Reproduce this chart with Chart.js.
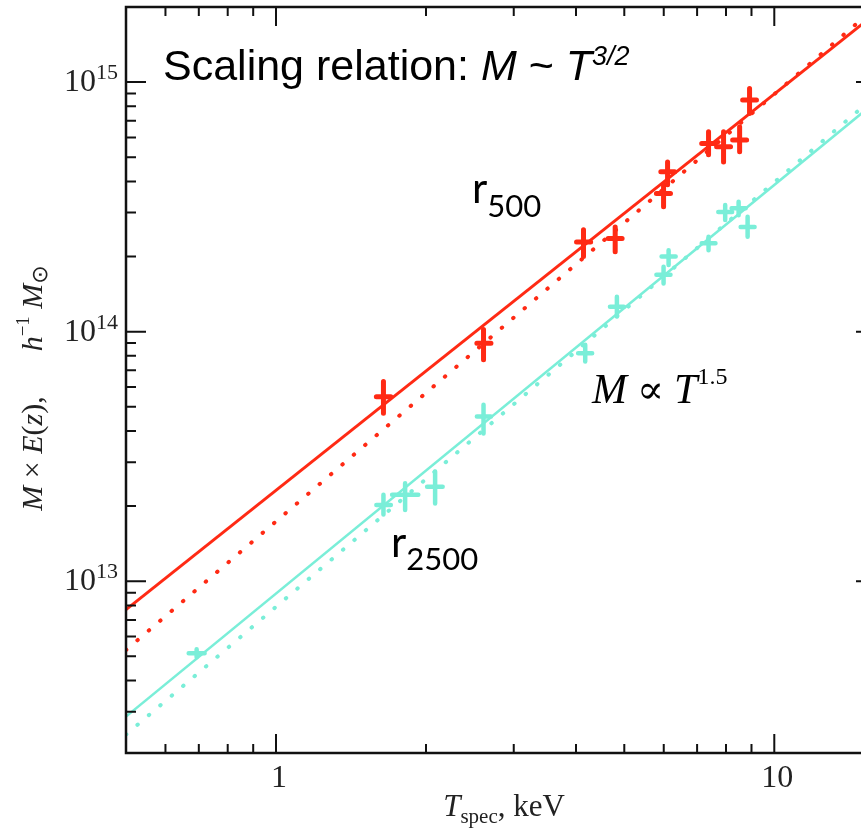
<!DOCTYPE html>
<html>
<head>
<meta charset="utf-8">
<script src="https://cdn.jsdelivr.net/npm/chart.js@4"></script>
<style>
  html, body { margin: 0; padding: 0; background: #fff; overflow: hidden; }
  #wrap { width: 861px; height: 830px; overflow: hidden; }
</style>
</head>
<body>
<div id="wrap"><canvas id="c" width="880" height="830"></canvas></div>
<script>
// r500 points (T in keV, M in h^-1 Msun)
var T_RED    = [1.643, 2.609, 4.141, 4.794, 5.995, 6.107, 7.38, 7.91, 8.52, 8.92];
var T_RED_LO = [1.59, 2.53, 4.01, 4.64, 5.80, 5.92, 7.15, 7.66, 8.25, 8.64];
var T_RED_HI = [1.70, 2.70, 4.28, 4.95, 6.19, 6.31, 7.62, 8.17, 8.80, 9.21];
var M_RED    = [5.49e13, 8.98e13, 2.29e14, 2.36e14, 3.58e14, 4.37e14, 5.68e14, 5.51e14, 5.86e14, 8.47e14];
var M_RED_LO = [4.71e13, 7.72e13, 2.00e14, 2.09e14, 3.17e14, 3.88e14, 5.12e14, 4.79e14, 5.26e14, 7.49e14];
var M_RED_HI = [6.31e13, 1.02e14, 2.56e14, 2.63e14, 3.88e14, 4.79e14, 6.32e14, 6.32e14, 6.62e14, 9.43e14];

// r2500 points
var T_CYAN    = [0.693, 1.643, 1.816, 2.086, 2.609, 4.174, 4.832, 5.995, 6.136, 7.38, 7.97, 8.48, 8.84];
var T_CYAN_LO = [0.668, 1.59, 1.71, 2.01, 2.53, 4.04, 4.68, 5.80, 5.94, 7.15, 7.72, 8.21, 8.56];
var T_CYAN_HI = [0.719, 1.70, 1.93, 2.16, 2.70, 4.31, 4.99, 6.19, 6.34, 7.62, 8.23, 8.76, 9.13];
var M_CYAN    = [5.15e12, 2.02e13, 2.22e13, 2.39e13, 4.57e13, 8.19e13, 1.26e14, 1.69e14, 2.00e14, 2.26e14, 3.02e14, 3.12e14, 2.63e14];
var M_CYAN_LO = [4.96e12, 1.85e13, 1.93e13, 2.05e13, 3.91e13, 7.59e13, 1.15e14, 1.56e14, 1.85e14, 2.12e14, 2.80e14, 2.93e14, 2.40e14];
var M_CYAN_HI = [5.34e12, 2.22e13, 2.47e13, 2.75e13, 5.09e13, 8.87e13, 1.38e14, 1.82e14, 2.12e14, 2.40e14, 3.22e14, 3.32e14, 2.89e14];

// fitted relations (solid) and M ~ T^1.5 (dotted)
var FIT_T        = [0.5, 16];
var RED_FIT      = [7.7e12, 1.89e15];
var RED_FIT_DOT  = [5.3e12, 2.0e15];
var CYAN_FIT     = [2.87e12, 8.36e14];
var CYAN_FIT_DOT = [2.43e12, 8.83e14];

// tick values
var X_TICKS = [0.6, 0.7, 0.8, 0.9, 1, 2, 3, 4, 5, 6, 7, 8, 9, 10];
var X_MAJOR = [1, 10];
var Y_TICKS = [3e12, 4e12, 5e12, 6e12, 7e12, 8e12, 9e12,
               1e13, 2e13, 3e13, 4e13, 5e13, 6e13, 7e13, 8e13, 9e13,
               1e14, 2e14, 3e14, 4e14, 5e14, 6e14, 7e14, 8e14, 9e14, 1e15];
var Y_MAJOR = [1e13, 1e14, 1e15];

var RED = '#ff2a14';
var CYAN = '#7aeed8';

function pts(xs, ys) {
    return xs.map(function(x, i) { return { x: x, y: ys[i] }; });
}

// draws a row of text pieces with different fonts/offsets
function richText(ctx, parts, x, y, align) {
    var w = 0;
    parts.forEach(function(p) { ctx.font = p.f; w += ctx.measureText(p.t).width; });
    var cx = align === 'center' ? x - w / 2 : (align === 'right' ? x - w : x);
    parts.forEach(function(p) {
        ctx.font = p.f;
        ctx.fillText(p.t, cx, y + (p.dy || 0));
        cx += ctx.measureText(p.t).width;
    });
}

var SERIF = '"Liberation Serif", "DejaVu Serif", serif';
var SANS = '"Liberation Sans", Arial, sans-serif';
var CAL = 'Lato, "Open Sans", sans-serif';

var errorBars = {
    id: 'errorBars',
    afterDatasetsDraw: function(chart) {
        var ctx = chart.ctx, xs = chart.scales.x, ys = chart.scales.y;
        var sets = [
            { t: T_CYAN, tl: T_CYAN_LO, th: T_CYAN_HI, m: M_CYAN, ml: M_CYAN_LO, mh: M_CYAN_HI, c: CYAN, w: 4.5 },
            { t: T_RED, tl: T_RED_LO, th: T_RED_HI, m: M_RED, ml: M_RED_LO, mh: M_RED_HI, c: RED, w: 5 }
        ];
        ctx.save();
        sets.forEach(function(s) {
            ctx.strokeStyle = s.c;
            ctx.lineWidth = s.w;
            ctx.lineCap = 'round';
            s.t.forEach(function(t, i) {
                var px = xs.getPixelForValue(t), py = ys.getPixelForValue(s.m[i]);
                ctx.beginPath();
                ctx.moveTo(px, ys.getPixelForValue(s.ml[i]));
                ctx.lineTo(px, ys.getPixelForValue(s.mh[i]));
                ctx.moveTo(xs.getPixelForValue(s.tl[i]), py);
                ctx.lineTo(xs.getPixelForValue(s.th[i]), py);
                ctx.stroke();
            });
        });
        ctx.restore();
    }
};

var frameAndLabels = {
    id: 'frameAndLabels',
    afterDraw: function(chart) {
        var ctx = chart.ctx, a = chart.chartArea, xs = chart.scales.x, ys = chart.scales.y;
        ctx.save();
        ctx.strokeStyle = '#111';
        ctx.lineWidth = 2.5;
        ctx.strokeRect(a.left, a.top, a.right - a.left, a.bottom - a.top);
        ctx.lineWidth = 2;
        ctx.beginPath();
        xs.ticks.forEach(function(t) {
            var px = xs.getPixelForValue(t.value);
            if (px <= a.left + 1 || px >= a.right - 1) return;
            var len = X_MAJOR.indexOf(t.value) >= 0 ? 19 : 9;
            ctx.moveTo(px, a.bottom); ctx.lineTo(px, a.bottom - len);
            ctx.moveTo(px, a.top); ctx.lineTo(px, a.top + len);
        });
        ys.ticks.forEach(function(t) {
            var py = ys.getPixelForValue(t.value);
            if (py <= a.top + 1 || py >= a.bottom - 1) return;
            var len = Y_MAJOR.indexOf(t.value) >= 0 ? 20 : 10;
            ctx.moveTo(a.left, py); ctx.lineTo(a.left + len, py);
            ctx.moveTo(a.right, py); ctx.lineTo(a.right - len, py);
        });
        ctx.stroke();

        // tick labels
        ctx.fillStyle = '#222';
        ctx.textBaseline = 'alphabetic';
        X_MAJOR.forEach(function(v) {
            richText(ctx, [{ t: String(v), f: '32px ' + SERIF }], xs.getPixelForValue(v) + 3, 787, 'center');
        });
        Y_MAJOR.forEach(function(v) {
            var py = ys.getPixelForValue(v);
            richText(ctx, [
                { t: '10', f: '32px ' + SERIF },
                { t: String(Math.round(Math.log10(v))), f: '22px ' + SERIF, dy: -12 }
            ], 118, py + 9, 'right');
        });

        // axis titles
        richText(ctx, [
            { t: 'T', f: 'italic 31px ' + SERIF },
            { t: 'spec', f: '21px ' + SERIF, dy: 7 },
            { t: ', keV', f: '31px ' + SERIF }
        ], 504, 816, 'center');

        ctx.save();
        ctx.translate(42, 388);
        ctx.rotate(-Math.PI / 2);
        richText(ctx, [
            { t: 'M', f: 'italic 30px ' + SERIF },
            { t: ' \u00d7 ', f: '30px ' + SERIF },
            { t: 'E', f: 'italic 30px ' + SERIF },
            { t: '(', f: '30px ' + SERIF },
            { t: 'z', f: 'italic 30px ' + SERIF },
            { t: '),      ', f: '30px ' + SERIF },
            { t: 'h', f: 'italic 30px ' + SERIF },
            { t: '\u22121', f: '19px ' + SERIF, dy: -13 },
            { t: ' ', f: '30px ' + SERIF },
            { t: 'M', f: 'italic 30px ' + SERIF },
            { t: '\u2299', f: '22px "DejaVu Sans", sans-serif', dy: 5 }
        ], 0, 0, 'center');
        ctx.restore();

        // annotations
        ctx.fillStyle = '#000';
        richText(ctx, [
            { t: 'Scaling relation: ', f: '43px ' + SANS },
            { t: 'M', f: 'italic 43px ' + SANS },
            { t: ' ~ ', f: '43px ' + SANS },
            { t: 'T', f: 'italic 43px ' + SANS },
            { t: '3/2', f: 'italic 27px ' + SANS, dy: -15 }
        ], 163, 80, 'left');
        richText(ctx, [
            { t: 'r', f: '42px ' + CAL },
            { t: '500', f: '31px ' + CAL, dy: 14 }
        ], 472, 203, 'left');
        richText(ctx, [
            { t: 'r', f: '42px ' + CAL },
            { t: '2500', f: '31px ' + CAL, dy: 13 }
        ], 391, 557, 'left');
        richText(ctx, [
            { t: 'M', f: 'italic 42px ' + SERIF },
            { t: ' \u221d ', f: '40px ' + SERIF },
            { t: 'T', f: 'italic 42px ' + SERIF },
            { t: '1.5', f: '24px ' + SERIF, dy: -19 }
        ], 592, 403, 'left');
        ctx.restore();
    }
};

var ctx = document.getElementById('c').getContext('2d');
new Chart(ctx, {
    type: 'scatter',
    data: {
        datasets: [
            { label: 'r2500 M~T^1.5', type: 'line', data: pts(FIT_T, CYAN_FIT_DOT), borderColor: CYAN, borderWidth: 4,
              borderDash: [0.5, 14.5], borderCapStyle: 'round', pointRadius: 0, fill: false },
            { label: 'r2500 fit', type: 'line', data: pts(FIT_T, CYAN_FIT), borderColor: CYAN, borderWidth: 2.5,
              pointRadius: 0, fill: false },
            { label: 'r500 M~T^1.5', type: 'line', data: pts(FIT_T, RED_FIT_DOT), borderColor: RED, borderWidth: 4,
              borderDash: [0.5, 14.5], borderCapStyle: 'round', pointRadius: 0, fill: false },
            { label: 'r500 fit', type: 'line', data: pts(FIT_T, RED_FIT), borderColor: RED, borderWidth: 3,
              pointRadius: 0, fill: false },
            { label: 'r2500', data: pts(T_CYAN, M_CYAN), backgroundColor: CYAN, borderColor: CYAN, pointRadius: 0 },
            { label: 'r500', data: pts(T_RED, M_RED), backgroundColor: RED, borderColor: RED, pointRadius: 0 }
        ]
    },
    options: {
        responsive: false,
        animation: false,
        devicePixelRatio: 1,
        layout: { padding: { top: 7, right: 4, left: 0, bottom: 0 } },
        plugins: { legend: { display: false }, tooltip: { enabled: false } },
        scales: {
            x: {
                type: 'logarithmic', min: 0.5, max: 16,
                grid: { display: false }, border: { display: false },
                ticks: { display: false },
                afterBuildTicks: function(s) { s.ticks = X_TICKS.map(function(v) { return { value: v }; }); },
                afterFit: function(s) { s.height = 77; }
            },
            y: {
                type: 'logarithmic', min: 2.05e12, max: 2e15,
                grid: { display: false }, border: { display: false },
                ticks: { display: false },
                afterBuildTicks: function(s) { s.ticks = Y_TICKS.map(function(v) { return { value: v }; }); },
                afterFit: function(s) { s.width = 126; }
            }
        }
    },
    plugins: [errorBars, frameAndLabels]
});
</script>
</body>
</html>
